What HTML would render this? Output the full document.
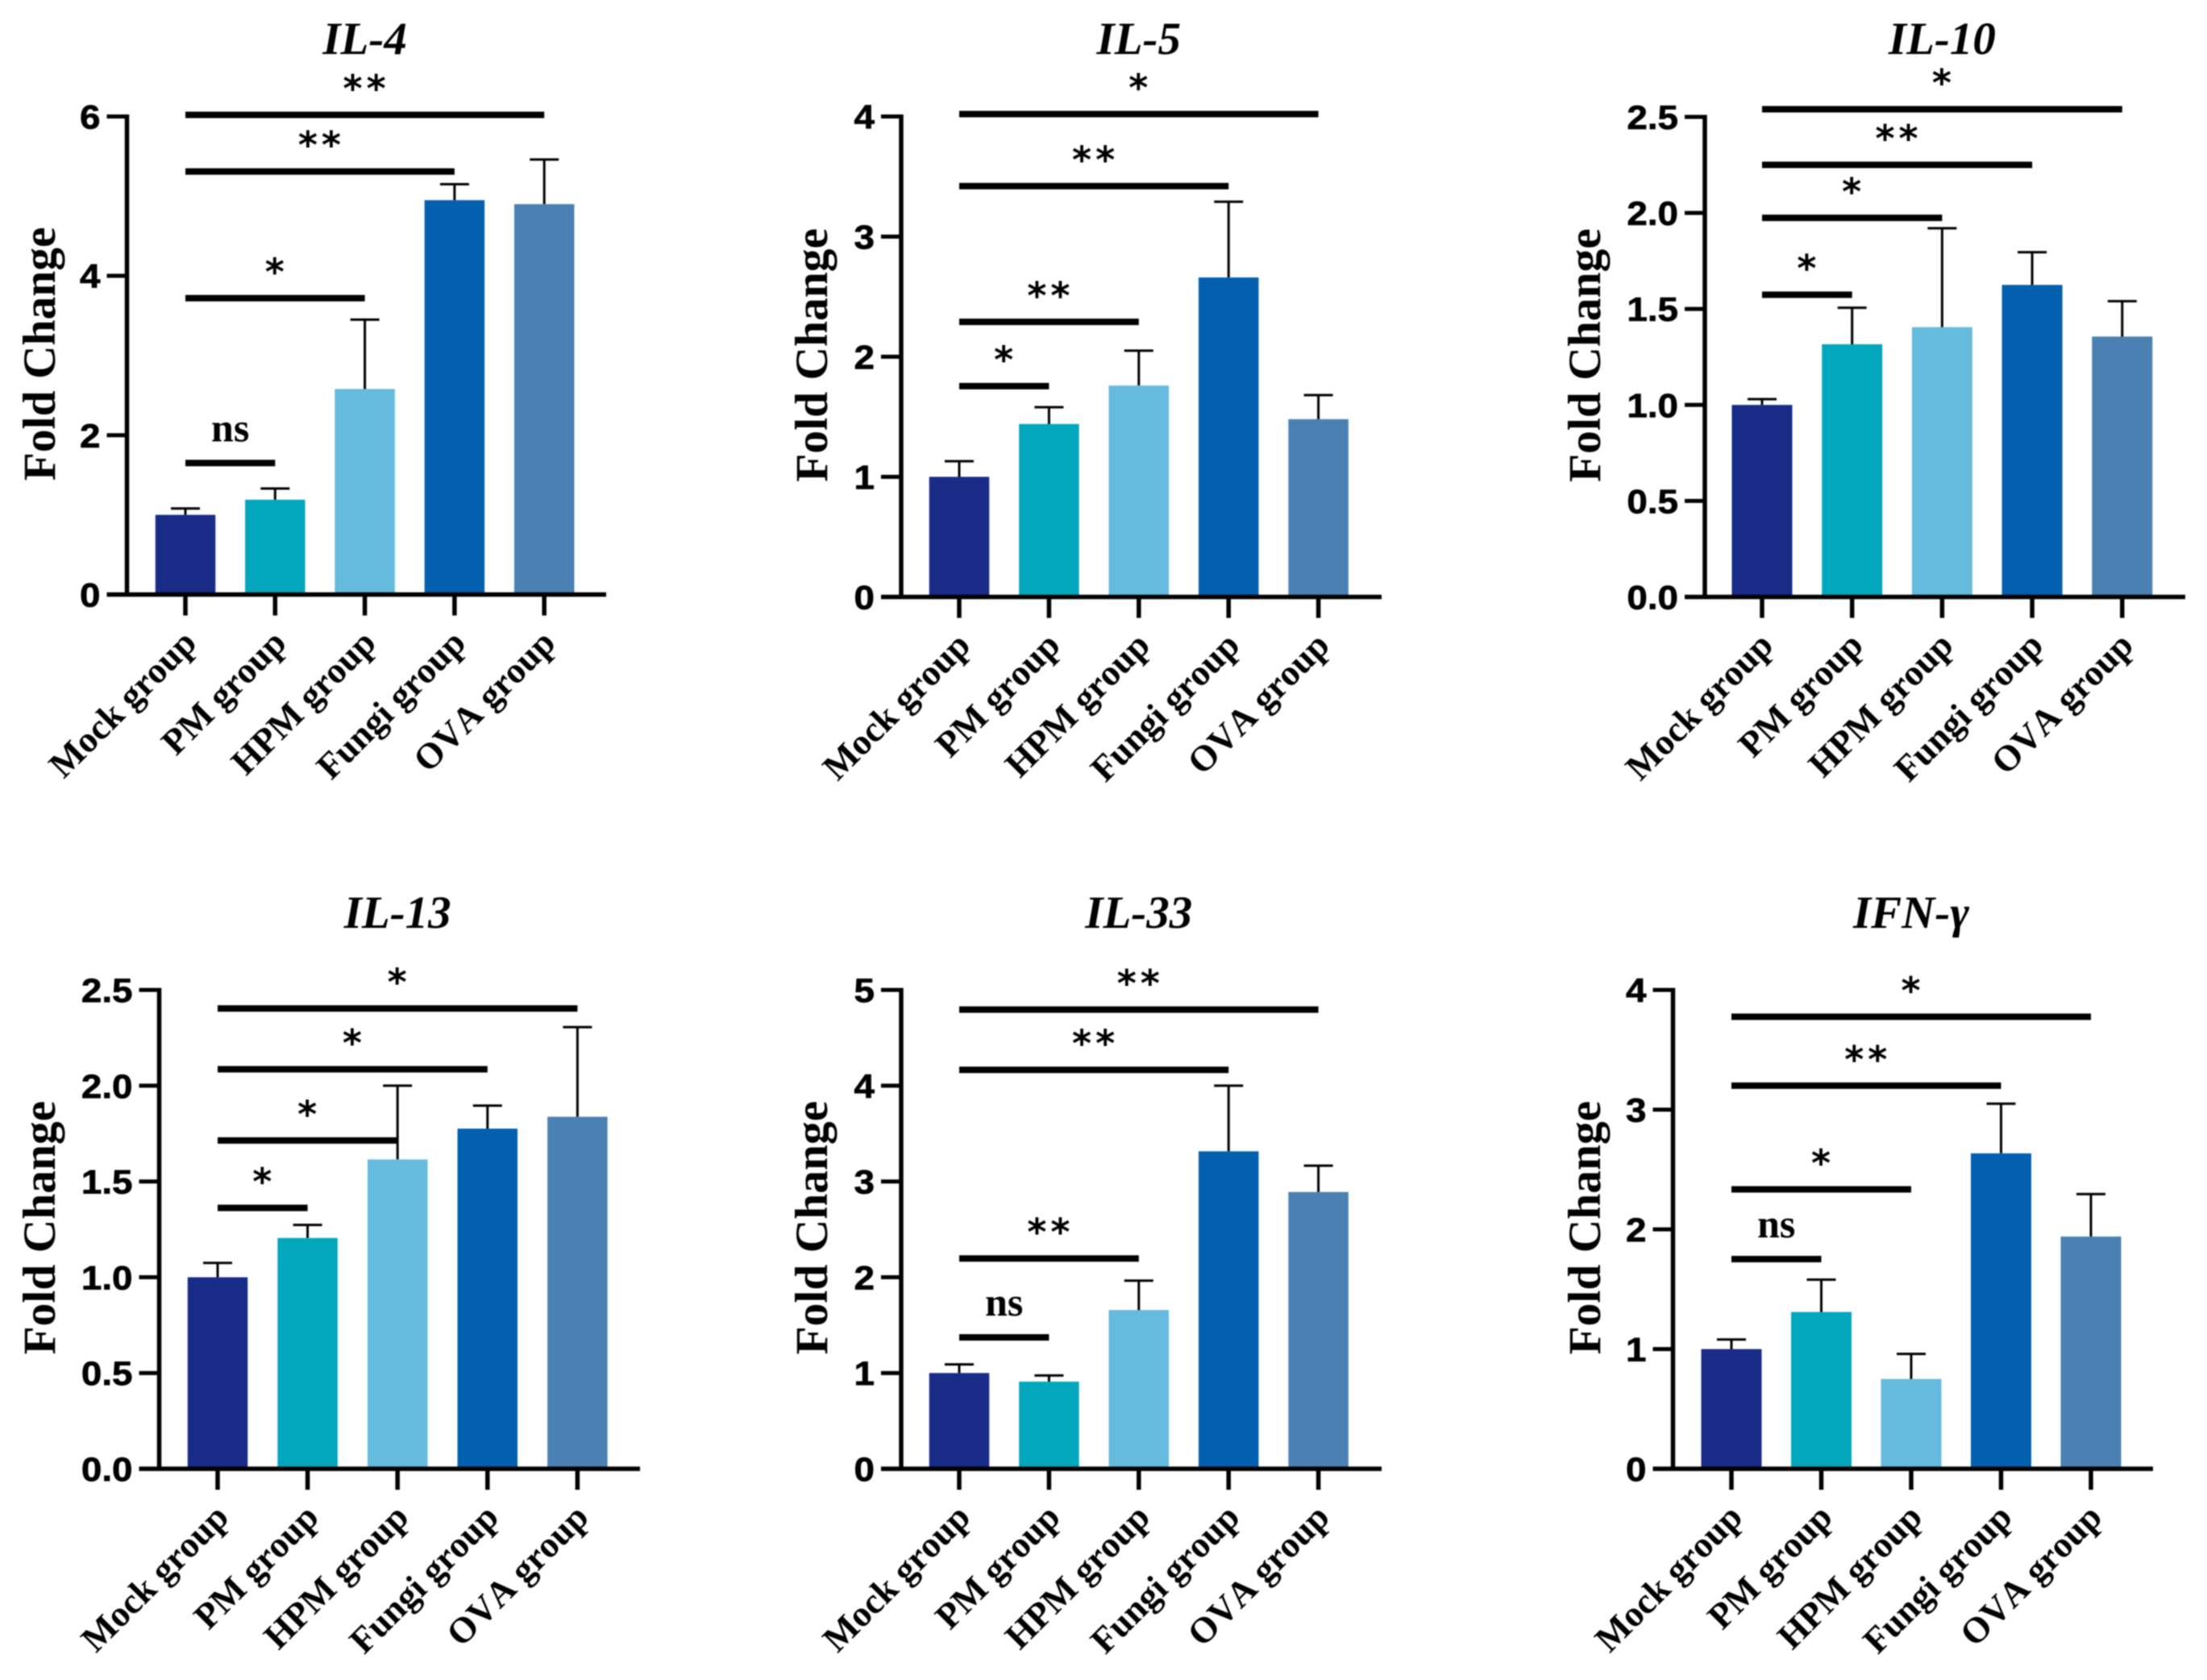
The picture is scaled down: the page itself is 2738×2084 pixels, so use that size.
<!DOCTYPE html>
<html lang="en">
<head>
<meta charset="utf-8">
<title>Cytokine fold change by group</title>
<style>
html,body{margin:0;padding:0;background:#fff;}
svg{display:block;filter:blur(.7px);}
</style>
</head>
<body>
<svg id="figure" xmlns="http://www.w3.org/2000/svg" width="2738" height="2084" viewBox="0 0 2738 2084"></svg>
<script>
// Shared categories and colours
const categories = ['Mock group', 'PM group', 'HPM group', 'Fungi group', 'OVA group'];
const barColors = ['#172b87', '#02a7bd', '#64bbdd', '#0360ae', '#4a80b2'];

// IL-4
const il4Values = [1.0, 1.19, 2.58, 4.95, 4.9];
const il4Errors = [0.08, 0.14, 0.87, 0.2, 0.56];
const il4Ticks = ['0', '2', '4', '6'];
const il4SigLevels = [1.65, 3.72, 5.31, 6.02];
const il4SigEnds = [1, 2, 3, 4];
const il4SigLabels = ['ns', '*', '**', '**'];

// IL-5
const il5Values = [1.0, 1.44, 1.76, 2.66, 1.48];
const il5Errors = [0.13, 0.14, 0.29, 0.63, 0.2];
const il5Ticks = ['0', '1', '2', '3', '4'];
const il5SigLevels = [1.755, 2.29, 3.42, 4.02];
const il5SigEnds = [1, 2, 3, 4];
const il5SigLabels = ['*', '**', '**', '*'];

// IL-10
const il10Values = [1.0, 1.316, 1.405, 1.625, 1.356];
const il10Errors = [0.03, 0.19, 0.515, 0.17, 0.184];
const il10Ticks = ['0.0', '0.5', '1.0', '1.5', '2.0', '2.5'];
const il10SigLevels = [1.574, 1.974, 2.25, 2.54];
const il10SigEnds = [1, 2, 3, 4];
const il10SigLabels = ['*', '*', '**', '*'];

// IL-13
const il13Values = [1.0, 1.205, 1.615, 1.776, 1.838];
const il13Errors = [0.075, 0.068, 0.385, 0.12, 0.468];
const il13Ticks = ['0.0', '0.5', '1.0', '1.5', '2.0', '2.5'];
const il13SigLevels = [1.362, 1.714, 2.086, 2.403];
const il13SigEnds = [1, 2, 3, 4];
const il13SigLabels = ['*', '*', '*', '*'];

// IL-33
const il33Values = [1.0, 0.91, 1.658, 3.315, 2.89];
const il33Errors = [0.09, 0.064, 0.306, 0.685, 0.275];
const il33Ticks = ['0', '1', '2', '3', '4', '5'];
const il33SigLevels = [1.372, 2.196, 4.166, 4.795];
const il33SigEnds = [1, 2, 3, 4];
const il33SigLabels = ['ns', '**', '**', '**'];

// IFN-gamma
const ifnValues = [1.0, 1.31, 0.75, 2.635, 1.94];
const ifnErrors = [0.08, 0.27, 0.21, 0.415, 0.355];
const ifnTicks = ['0', '1', '2', '3', '4'];
const ifnSigLevels = [1.752, 2.334, 3.2, 3.776];
const ifnSigEnds = [1, 2, 3, 4];
const ifnSigLabels = ['ns', '*', '**', '*'];

const NS = 'http://www.w3.org/2000/svg';
const figure = document.getElementById('figure');

function make(tag, parent, attrs, text) {
  const node = document.createElementNS(NS, tag);
  for (const key in attrs) node.setAttribute(key, attrs[key]);
  if (text !== undefined) node.textContent = text;
  parent.appendChild(node);
  return node;
}

function line(parent, x1, y1, x2, y2, width) {
  return make('line', parent, {x1: x1, y1: y1, x2: x2, y2: y2, stroke: '#000', 'stroke-width': width});
}

function drawPanel(p) {
  const yMax = parseFloat(p.ticks[p.ticks.length - 1]);
  const yOf = function (v) { return p.y0 - (v / yMax) * (p.y0 - p.yTop); };
  const xOf = function (i) { return p.x0 + i * p.step; };
  const slug = p.slug;

  const g = make('g', figure, {});
  
  

  const title = make('text', g, {
    x: xOf(2), y: p.titleY, 'text-anchor': 'middle',
    'font-family': '"Liberation Serif", serif', 'font-weight': 'bold', 'font-style': 'italic', 'font-size': 57
  }, p.title);
  
  

  const yTitle = make('text', g, {
    transform: 'translate(' + p.labelX + ',' + ((p.y0 + p.yTop) / 2 - 2) + ') rotate(-90)',
    'text-anchor': 'middle',
    'font-family': '"Liberation Serif", serif', 'font-weight': 'bold', 'font-size': 57.5
  }, 'Fold Change');
  
  

  // Bars and error bars
  categories.forEach(function (name, i) {
    const top = yOf(p.values[i]);
    const errTop = yOf(p.values[i] + p.errors[i]);
    const stem = line(g, xOf(i), top, xOf(i), errTop, 3);
    
    
    const cap = line(g, xOf(i) - 18, errTop, xOf(i) + 18, errTop, 3);
    
    
    const bar = make('rect', g, {
      x: xOf(i) - p.barW / 2, y: top, width: p.barW, height: p.y0 - top, fill: barColors[i]
    });
    
    
  });

  // Axes
  const yAxis = line(g, p.axisX, p.yTop - 2.5, p.axisX, p.y0 + 2.5, 5.5);
  
  
  const xAxis = line(g, p.axisX - 25, p.y0, p.xEnd, p.y0, 5.5);
  
  

  p.ticks.forEach(function (label) {
    const y = yOf(parseFloat(label));
    const tick = line(g, p.axisX - 25, y, p.axisX, y, 5);
    
    
    const text = make('text', g, {
      transform: 'translate(' + (p.axisX - 33) + ',' + (y + 15) + ') scale(1.09,1)',
      'text-anchor': 'end', stroke: '#000', 'stroke-width': 0.7,
      'font-family': '"Liberation Sans", sans-serif', 'font-weight': 'bold', 'font-size': 42
    }, label);
    
    
  });

  categories.forEach(function (name, i) {
    const tick = line(g, xOf(i), p.y0, xOf(i), p.y0 + 26, 5.5);
    
    
    const ax = xOf(i) + 16;
    const ay = p.y0 + 62.5;
    const text = make('text', g, {
      transform: 'translate(' + ax + ',' + ay + ') rotate(-45)', 'text-anchor': 'end',
      style: 'font-kerning:none',
      'font-family': '"Liberation Serif", serif', 'font-weight': 'bold', 'font-size': 45
    }, name);
    
    
  });

  // Significance brackets
  p.sigLevels.forEach(function (level, i) {
    const y = yOf(level);
    const x1 = xOf(0);
    const x2 = xOf(p.sigEnds[i]);
    const sig = line(g, x1, y, x2, y, 8);
    
    
    const isNs = p.sigLabels[i] === 'ns';
    const mark = make('text', g, isNs ? {
      x: (x1 + x2) / 2, y: y - 27, 'text-anchor': 'middle',
      'font-family': '"Liberation Serif", serif', 'font-weight': 'bold', 'font-size': 50
    } : {
      x: (x1 + x2) / 2 + 2, y: y - 16.5, 'text-anchor': 'middle', 'letter-spacing': 5,
      'font-family': '"DejaVu Sans", sans-serif', 'font-weight': 'bold', 'font-size': 46
    }, p.sigLabels[i]);
    
    
  });
}

const panels = [
  {slug: 'il-4', title: 'IL-4', values: il4Values, errors: il4Errors, ticks: il4Ticks, sigLevels: il4SigLevels, sigEnds: il4SigEnds, sigLabels: il4SigLabels,
   axisX: 157.5, yTop: 144.5, y0: 737.5, x0: 230, step: 111.3, barW: 74.5, xEnd: 752, labelX: 68, titleY: 67},
  {slug: 'il-5', title: 'IL-5', values: il5Values, errors: il5Errors, ticks: il5Ticks, sigLevels: il5SigLevels, sigEnds: il5SigEnds, sigLabels: il5SigLabels,
   axisX: 1118, yTop: 144.5, y0: 740.5, x0: 1190, step: 111.4, barW: 74.5, xEnd: 1714, labelX: 1026, titleY: 67},
  {slug: 'il-10', title: 'IL-10', values: il10Values, errors: il10Errors, ticks: il10Ticks, sigLevels: il10SigLevels, sigEnds: il10SigEnds, sigLabels: il10SigLabels,
   axisX: 2115, yTop: 145, y0: 740.5, x0: 2186, step: 111.7, barW: 75, xEnd: 2711, labelX: 1985, titleY: 67},
  {slug: 'il-13', title: 'IL-13', values: il13Values, errors: il13Errors, ticks: il13Ticks, sigLevels: il13SigLevels, sigEnds: il13SigEnds, sigLabels: il13SigLabels,
   axisX: 197.5, yTop: 1228, y0: 1822, x0: 270, step: 111.6, barW: 74.5, xEnd: 794, labelX: 68, titleY: 1151},
  {slug: 'il-33', title: 'IL-33', values: il33Values, errors: il33Errors, ticks: il33Ticks, sigLevels: il33SigLevels, sigEnds: il33SigEnds, sigLabels: il33SigLabels,
   axisX: 1118, yTop: 1228, y0: 1822, x0: 1190, step: 111.4, barW: 74.5, xEnd: 1714, labelX: 1026, titleY: 1151},
  {slug: 'ifn-gamma', title: 'IFN-\u03B3', values: ifnValues, errors: ifnErrors, ticks: ifnTicks, sigLevels: ifnSigLevels, sigEnds: ifnSigEnds, sigLabels: ifnSigLabels,
   axisX: 2075.5, yTop: 1228, y0: 1822, x0: 2148, step: 111.5, barW: 75, xEnd: 2671, labelX: 1985, titleY: 1151}
];

panels.forEach(drawPanel);
</script>
</body>
</html>
